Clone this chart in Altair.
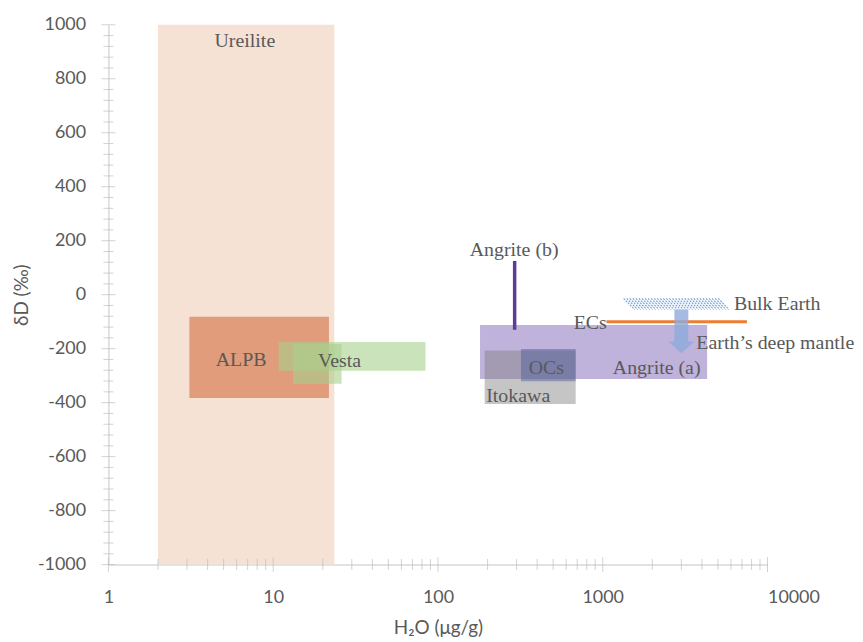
import altair as alt
import pandas as pd
import numpy as np

# ---- range boxes (H2O in ug/g, dD in permil) ----
box_names = ["Ureilite", "ALPB", "Vesta1", "Vesta2", "Angrite (a)", "Itokawa", "OCs"]
box_x0 = [2.0, 3.1, 10.8, 13.2, 180, 192, 319]
box_x1 = [23.5, 21.8, 84, 26, 4300, 685, 685]
box_y0 = [-1000, -383, -282, -330, -312, -405, -321]
box_y1 = [1000, -82, -175, -183, -112, -207, -201]
box_color = ["#f5e2d5", "#e09c7b", "#a9d18e", "#a9d18e", "#8a72be", "#7f7f7f", "#4a5a9a"]
box_opacity = [1.0, 1.0, 0.6, 0.6, 0.55, 0.45, 0.45]

# Angrite (b) vertical range
angb_x = [292]
angb_y0 = [-130]
angb_y1 = [125]

# ECs horizontal line
ecs_x0 = [1053]
ecs_x1 = [7500]
ecs_y = [-100]

# Bulk Earth hatched box
bulk_x0, bulk_x1 = 1340, 6000
bulk_y0, bulk_y1 = -55, -14

# Arrow (Bulk Earth -> Earth's deep mantle)
arrow_x = [3000]
arrow_y0 = [-55]
arrow_y1 = [-174]
arrow_tip = [-195]

# Labels
lab_text = ["Ureilite", "ALPB", "Vesta", "Angrite (b)", "OCs", "Itokawa", "Angrite (a)", "ECs"]
lab_x = [6.73, 6.39, 25.3, 290, 455, 307, 2125, 840]
lab_y = [941, -241, -245, 164, -272, -377, -272, -106]
lab_left_text = ["Bulk Earth", "Earth\u2019s deep mantle"]
lab_left_x = [6250, 3700]
lab_left_y = [-35, -180]

x_ticks = [1, 10, 100, 1000, 10000]
y_ticks = list(range(-1000, 1001, 200))
x_minor = [m * d for d in [1, 10, 100, 1000] for m in range(2, 10)]
y_minor = [v for v in range(-1000, 1001, 40) if v % 200 != 0]

FONT = "Lato"
GREY = "#595959"

xscale = alt.Scale(type="log", domain=[1, 10000], nice=False)
yscale = alt.Scale(domain=[-1000, 1000], nice=False, zero=False)
xaxis = alt.Axis(values=x_ticks, format="d", title="H\u2082O (\u03bcg/g)", tickSize=0,
                 labelPadding=24, titlePadding=12, grid=False, labelFlush=False,
                 labelAlign=alt.ExprRef("datum.value >= 10000 ? 'left' : 'center'"))
yaxis = alt.Axis(values=y_ticks, labelExpr="'' + datum.value", title="\u03b4D (\u2030)",
                 tickSize=0, labelPadding=23, titlePadding=6, grid=False, labelFlush=False)

def X(f):
    return alt.X(f, type="quantitative", scale=xscale, axis=xaxis)

def Y(f):
    return alt.Y(f, type="quantitative", scale=yscale, axis=yaxis)

boxes = pd.DataFrame({"name": box_names, "x0": box_x0, "x1": box_x1, "y0": box_y0,
                      "y1": box_y1, "color": box_color, "op": box_opacity})
box_layer = alt.Chart(boxes).mark_rect().encode(
    x=X("x0"), x2="x1", y=Y("y0"), y2="y1",
    color=alt.Color("color:N", scale=None), opacity=alt.Opacity("op:Q", scale=None))

angb = pd.DataFrame({"x": angb_x, "y0": angb_y0, "y1": angb_y1})
angb_layer = alt.Chart(angb).mark_rule(color="#5c3c96", strokeWidth=3.5).encode(
    x=X("x"), y=Y("y0"), y2="y1")

ecs = pd.DataFrame({"x0": ecs_x0, "x1": ecs_x1, "y": ecs_y})
ecs_layer = alt.Chart(ecs).mark_rule(color="#ed7d31", strokeWidth=3).encode(
    x=X("x0"), x2="x1", y=Y("y"))

# hatch lines inside the Bulk Earth box
lx0, lx1 = np.log10(bulk_x0), np.log10(bulk_x1)
slant = 0.066
starts = np.arange(lx0, lx1 - slant, 0.0185)
hatch = pd.DataFrame({"xa": 10 ** starts, "xb": 10 ** (starts + slant),
                      "ya": bulk_y1, "yb": bulk_y0})
hatch_layer = alt.Chart(hatch).mark_rule(color="#5b93dc", strokeWidth=1.1, opacity=0.85,
                                         strokeDash=[2, 1]).encode(
    x=X("xa"), x2="xb", y=Y("ya"), y2="yb")

arrow = pd.DataFrame({"x": arrow_x, "y0": arrow_y0, "y1": arrow_y1, "tip": arrow_tip})
arrow_shaft = alt.Chart(arrow).mark_rule(color="#8eaadb", strokeWidth=14, opacity=0.8,
                                          strokeCap="butt").encode(
    x=X("x"), y=Y("y0"), y2="y1")
arrow_head = alt.Chart(arrow).mark_point(shape="M-1,-0.45L1,-0.45L0,0.45Z", size=676,
                                          filled=True, color="#8eaadb", opacity=0.8).encode(
    x=X("x"), y=Y("tip"))

labs = pd.DataFrame({"t": lab_text, "x": lab_x, "y": lab_y})
lab_layer = alt.Chart(labs).mark_text(font="Liberation Serif", fontSize=20, color=GREY,
                                      align="center", baseline="middle").encode(
    x=X("x"), y=Y("y"), text="t:N")
labl = pd.DataFrame({"t": lab_left_text, "x": lab_left_x, "y": lab_left_y})
labl_layer = alt.Chart(labl).mark_text(font="Liberation Serif", fontSize=20, color=GREY,
                                       align="left", baseline="middle").encode(
    x=X("x"), y=Y("y"), text="t:N")

# crossing tick marks on both axes
ymaj = pd.DataFrame({"v": y_ticks, "xp": 1})
ymin = pd.DataFrame({"v": y_minor, "xp": 1})
xmaj = pd.DataFrame({"v": x_ticks, "yp": -1000})
xmin = pd.DataFrame({"v": x_minor, "yp": -1000})
tick_col = "#bfbfbf"
ymaj_layer = alt.Chart(ymaj).mark_tick(orient="horizontal", size=14, thickness=1, color=tick_col).encode(
    y=Y("v"), x=X("xp"))
ymin_layer = alt.Chart(ymin).mark_tick(orient="horizontal", size=10, thickness=1, color=tick_col).encode(
    y=Y("v"), x=X("xp"))
xmaj_layer = alt.Chart(xmaj).mark_tick(orient="vertical", size=15, thickness=1, color=tick_col).encode(
    x=X("v"), y=Y("yp"))
xmin_layer = alt.Chart(xmin).mark_tick(orient="vertical", size=11, thickness=1, color=tick_col).encode(
    x=X("v"), y=Y("yp"))

chart = alt.layer(
    box_layer, angb_layer, ecs_layer, hatch_layer, arrow_shaft, arrow_head,
    lab_layer, labl_layer, ymaj_layer, ymin_layer, xmaj_layer, xmin_layer
).properties(
    width=663, height=543,
    autosize=alt.AutoSizeParams(type="none"),
    padding={"left": 101, "top": 15, "right": 88, "bottom": 76},
).configure_view(stroke=None).configure_axis(
    labelFont=FONT, labelFontSize=18, labelColor=GREY,
    titleFont=FONT, titleFontSize=19, titleColor=GREY, titleFontWeight="normal",
    domainColor="#d9d9d9", domainWidth=1.5,
)

chart.save("out.html", embed_options={"renderer": "svg", "actions": False})
